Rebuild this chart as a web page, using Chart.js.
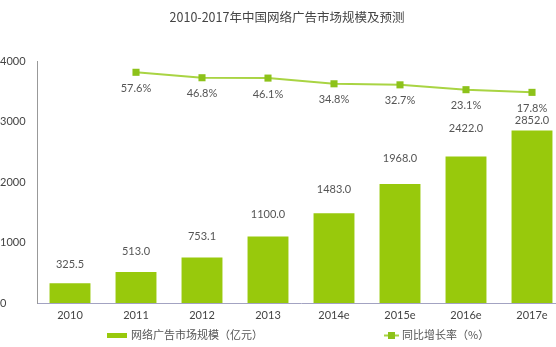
<!DOCTYPE html>
<html>
<head>
<meta charset="utf-8">
<script src="https://cdn.jsdelivr.net/npm/chart.js@4.4.0/dist/chart.umd.min.js"></script>
<style>
  html, body { margin: 0; padding: 0; overflow: hidden; background: #fff; }
  #wrap { width: 570px; height: 347px; position: relative; }
</style>
</head>
<body>
<div id="wrap"><canvas id="c"></canvas></div>
<script>
const years = ['2010', '2011', '2012', '2013', '2014e', '2015e', '2016e', '2017e'];
const marketSize = [325.5, 513.0, 753.1, 1100.0, 1483.0, 1968.0, 2422.0, 2852.0];
const growthRate = [null, 57.6, 46.8, 46.1, 34.8, 32.7, 23.1, 17.8];
const sizeTicks = [0, 1000, 2000, 3000, 4000];

const title = '2010-2017年中国网络广告市场规模及预测';
const barLegend = '网络广告市场规模（亿元）';
const lineLegend = '同比增长率（%）';

const BAR = '#98c90c';
const LINE = '#a9d443';
const MARK = '#8dc21a';
const TEXT = '#555';
const FONT = "Lato, 'Noto Sans CJK SC', sans-serif";

// value labels, title and legend drawn straight onto the canvas
const extras = {
    id: 'extras',
    afterDatasetsDraw(chart) {
        const ctx = chart.ctx;
        ctx.save();
        ctx.fillStyle = TEXT;
        ctx.textAlign = 'center';
        ctx.textBaseline = 'middle';
        ctx.font = '11px ' + FONT;

        chart.getDatasetMeta(0).data.forEach((bar, i) => {
            const y = Math.max(bar.y - (18 + marketSize[i] / 250), 120);
            ctx.fillText(marketSize[i].toFixed(1), bar.x, y);
        });
        chart.getDatasetMeta(1).data.forEach((pt, i) => {
            if (growthRate[i] == null) return;
            ctx.fillText(growthRate[i].toFixed(1) + '%', pt.x, pt.y + 16);
        });

        // title
        ctx.font = "12.5px 'Noto Sans CJK SC', sans-serif";
        ctx.fillStyle = '#444';
        ctx.fillText(title, 287, 17);

        // legend
        ctx.font = "11px 'Noto Sans CJK SC', sans-serif";
        ctx.textAlign = 'left';
        ctx.fillStyle = BAR;
        ctx.fillRect(107, 333, 20, 5);
        ctx.fillStyle = TEXT;
        ctx.fillText(barLegend, 131, 335);

        ctx.strokeStyle = LINE;
        ctx.lineWidth = 2;
        ctx.beginPath();
        ctx.moveTo(384, 335.5);
        ctx.lineTo(399, 335.5);
        ctx.stroke();
        ctx.fillStyle = MARK;
        ctx.fillRect(388, 332, 7, 7);
        ctx.fillStyle = TEXT;
        ctx.fillText(lineLegend, 402, 335);
        ctx.restore();
    }
};

new Chart(document.getElementById('c'), {
    data: {
        labels: years,
        datasets: [{
            type: 'bar',
            label: barLegend,
            data: marketSize,
            backgroundColor: BAR,
            categoryPercentage: 1,
            barPercentage: 0.62,
            yAxisID: 'y',
            order: 1
        }, {
            type: 'line',
            label: lineLegend,
            data: growthRate,
            borderColor: LINE,
            borderWidth: 2,
            pointStyle: 'rect',
            pointRadius: 5,
            pointBackgroundColor: MARK,
            pointBorderColor: MARK,
            pointBorderWidth: 0,
            tension: 0,
            yAxisID: 'y2',
            order: 0
        }]
    },
    options: {
        responsive: true,
        maintainAspectRatio: false,
        animation: false,
        layout: { padding: { top: 61, right: 5, bottom: 0, left: 0 } },
        plugins: {
            legend: { display: false },
            tooltip: { enabled: false }
        },
        scales: {
            x: {
                offset: true,
                grid: { display: false, drawTicks: false },
                border: { color: '#a3a3c2', width: 1 },
                ticks: { color: '#444', font: { family: FONT, size: 11 }, padding: 6 },
                afterFit: s => { s.height = 44; }
            },
            y: {
                position: 'left',
                min: 0,
                max: 4000,
                grid: { display: false },
                border: { color: '#999', width: 1 },
                afterBuildTicks: s => { s.ticks = sizeTicks.map(v => ({ value: v })); },
                ticks: {
                    color: '#444',
                    crossAlign: 'far',
                    font: { family: FONT, size: 11 },
                    padding: 4,
                    callback: v => String(v)
                },
                afterFit: s => { s.width = 37; }
            },
            y2: {
                display: false,
                min: -400,
                max: 80
            }
        }
    },
    plugins: [extras]
});
</script>
</body>
</html>
